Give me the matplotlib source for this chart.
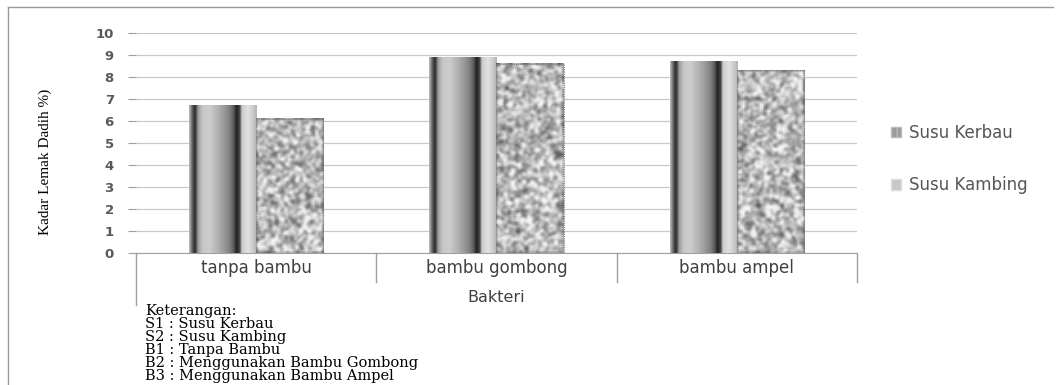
import numpy as np
import matplotlib
matplotlib.use('Agg')
import matplotlib.pyplot as plt
from matplotlib.lines import Line2D
from matplotlib.patches import Patch, Rectangle

categories = ['tanpa bambu', 'bambu gombong', 'bambu ampel']
susu_kerbau = [6.7, 8.9, 8.7]
susu_kambing = [6.1, 8.6, 8.3]
series_names = ['Susu Kerbau', 'Susu Kambing']
y_ticks = [0, 1, 2, 3, 4, 5, 6, 7, 8, 9, 10]
notes = ['Keterangan:', 'S1 : Susu Kerbau', 'S2 : Susu Kambing', 'B1 : Tanpa Bambu',
         'B2 : Menggunakan Bambu Gombong', 'B3 : Menggunakan Bambu Ampel']

W, H = 1057, 385
fig = plt.figure(figsize=(W / 100, H / 100), dpi=100)
ax = fig.add_axes([136 / W, 1 - 253 / H, (857 - 136) / W, 220 / H])

# stripe texture (cylinder look) for kerbau bars
pos = [0, .045, .075, .1, .13, .2, .3, .42, .52, .6, .66, .7, .75, .78, .87, .94, 1]
val = [.75, .4, .2, .25, .6, .78, .8, .7, .6, .5, .35, .12, .3, .8, .88, .8, .7]
stripe = np.interp(np.linspace(0, 1, 200), pos, val)[None, :]

# speckled texture for kambing bars (style only)
rng = np.random.default_rng(7)
def speckle(h):
    n = rng.random((int(h * 12), 36))
    k = np.array([1, 2, 1]) / 4
    n = np.apply_along_axis(lambda r: np.convolve(r, k, 'same'), 1, n)
    n = np.apply_along_axis(lambda c: np.convolve(c, k, 'same'), 0, n)
    n = (n - n.mean()) / n.std()
    return np.clip(0.72 + 0.12 * n, 0.35, 0.95)

x = np.arange(len(categories))
bw = 0.28
b1 = ax.bar(x - bw / 2, susu_kerbau, bw, color='none', zorder=3)
b2 = ax.bar(x + bw / 2, susu_kambing, bw, color='none', zorder=3)

for b in b1:
    ax.imshow(stripe, cmap='gray', vmin=0, vmax=1, aspect='auto', zorder=3,
              extent=[b.get_x(), b.get_x() + b.get_width(), 0, b.get_height()])
for b in b2:
    ax.imshow(speckle(b.get_height()), cmap='gray', vmin=0, vmax=1, aspect='auto', zorder=3,
              interpolation='bilinear',
              extent=[b.get_x(), b.get_x() + b.get_width(), 0, b.get_height()])
    ax.add_patch(Rectangle((b.get_x(), 0), b.get_width(), b.get_height(), fill=False,
                           ec='#808080', lw=0.8, ls=(0, (1, 1)), zorder=4))

ax.set_xlim(-0.5, 2.5)
ax.set_ylim(0, 10)
ax.set_yticks(y_ticks)
ax.set_yticklabels([str(t) for t in y_ticks], fontsize=9.5, fontweight='semibold',
                   color='#595959', family='DejaVu Sans')
ax.tick_params(axis='y', length=6, color='#a0a0a0', pad=10)
ax.set_xticks([])
ax.yaxis.grid(True, color='#c8c8c8', lw=0.9)
ax.set_axisbelow(True)
for s in ['top', 'right', 'left']:
    ax.spines[s].set_visible(False)
ax.spines['bottom'].set_color('#a0a0a0')

# category row lines
ax.plot([-0.5, -0.5], [-2.36, 0], color='#a0a0a0', lw=1, clip_on=False)
for sx in [0.5, 1.5, 2.5]:
    ax.plot([sx, sx], [-1.32, 0], color='#a0a0a0', lw=1, clip_on=False)
for i, c in enumerate(categories):
    ax.text(i, -0.68, c, ha='center', va='center', fontsize=12, color='#404040')
ax.text(1, -2.0, 'Bakteri', ha='center', va='center', fontsize=11.5, color='#404040')

fig.text(45 / W, 1 - 162 / H, 'Kadar Lemak Dadih %)', rotation=90, ha='center', va='center',
         family='Liberation Serif', fontsize=11)

handles = [Patch(facecolor='#9a9a9a', edgecolor='#bbbbbb', hatch='|||'),
           Patch(facecolor='#c8c8c8', edgecolor='#dddddd')]
leg = fig.legend(handles, series_names, loc='center left', frameon=False,
                 bbox_to_anchor=(876 / W, 1 - 159 / H), fontsize=12,
                 handlelength=0.6, handleheight=0.6, handletextpad=0.5, labelspacing=2.05)
for t in leg.get_texts():
    t.set_color('#555555')

for i, n in enumerate(notes):
    fig.text(145 / W, 1 - (311 + i * 13) / H, n, ha='left', va='center',
             family='DejaVu Serif', fontsize=10.5)

# outer frame
fig.add_artist(Line2D([8 / W, 8 / W], [0, 1 - 7 / H], color='#999999', lw=1))
fig.add_artist(Line2D([8 / W, 1053 / W], [1 - 7 / H, 1 - 7 / H], color='#999999', lw=1))

fig.savefig('out.png', dpi=100)
